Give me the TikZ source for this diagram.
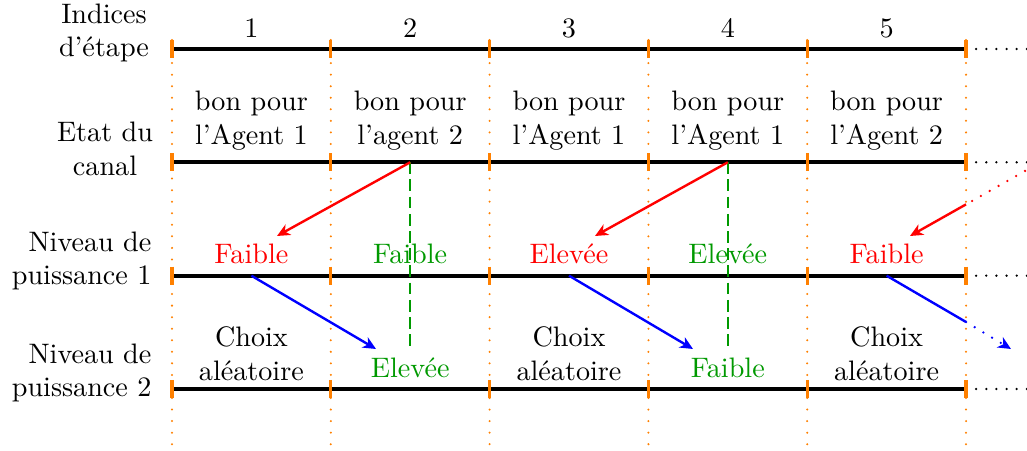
\documentclass[tikz,border=0pt]{standalone}
\usetikzlibrary{arrows.meta}
\begin{document}
\begin{tikzpicture}[x=0.355pt,y=-0.355pt,
  rowline/.style={line width=1.4pt},
  ext/.style={line width=0.9pt, line cap=round, dash pattern=on 0pt off 3.6pt},
  sep/.style={orange, line width=0.8pt, line cap=round, dash pattern=on 0pt off 4.1pt},
  tickmark/.style={orange, line width=1.1pt},
  greyseg/.style={gray!70, line width=0.6pt},
  cell/.style={align=center, inner sep=0pt},
  rowlbl/.style={align=center, inner sep=0pt},
  tip/.style={-{Stealth[length=4.6pt,width=4.2pt,inset=1.4pt]}},
  redarr/.style={red, line width=0.85pt, tip},
  bluearr/.style={blue, line width=0.85pt, tip},
  redline/.style={red, line width=0.85pt},
  blueline/.style={blue, line width=0.85pt},
  reddots/.style={red, line width=0.9pt, line cap=round, dash pattern=on 0pt off 3.6pt},
  bluedots/.style={blue, line width=0.9pt, line cap=round, dash pattern=on 0pt off 3.6pt},
  gdash/.style={green!60!black, line width=0.85pt, dash pattern=on 4.2pt off 1.9pt},
  gtxt/.style={text=green!60!black, inner sep=0pt},
  rtxt/.style={text=red, inner sep=0pt}
]
\useasboundingbox (0,0) rectangle (1027,451);

% grey short segments on state row
\foreach \a/\b in {172/186,316.8/344.8,475.6/503.6,634.4/662.4,793.2/821.2,952/966}
  \draw[greyseg] (\a,160.4) -- (\b,160.4);

% row lines
\foreach \y/\n in {49/r0,162.3/r1,275.7/r2,389/r3}{
  \coordinate (\n L) at (172,\y);
  \coordinate (\n R) at (966,\y);
  \coordinate (\n E) at (1027,\y);
  \draw[rowline] (\n L) -- (\n R);
  \draw[ext] ([xshift=3.6pt]\n R) -- (\n E);
}

% separators and ticks
\foreach \b [count=\i] in {172,330.8,489.6,648.4,807.2,966}{
  \coordinate (s\i T) at (\b,40);
  \coordinate (s\i B) at (\b,451);
  \draw[sep] (s\i T) -- (s\i B);
  \foreach \y in {49,162.3,275.7,389}
    \draw[tickmark] (\b,\y-9) -- (\b,\y+9);
}

% row labels
\node[rowlbl] (lab0) at (104,33) {Indices\\d'étape};
\node[rowlbl] (lab1) at (105,149) {Etat du\\canal};
\node[align=right, inner sep=0pt, anchor=east] (lab2) at (152,261) {Niveau de\\puissance 1};
\node[align=right, inner sep=0pt, anchor=east] (lab3) at (152,373) {Niveau de\\puissance 2};

% header indices
\foreach \x [count=\i] in {251.4,410.2,569,727.8,886.6}
  \node[inner sep=0pt] (h\i) at (\x,28) {\i};

% channel states
\node[cell] (c1) at (251.4,121) {bon pour\\l'Agent 1};
\node[cell] (c2) at (410.2,121) {bon pour\\l'agent 2};
\node[cell] (c3) at (569,121) {bon pour\\l'Agent 1};
\node[cell] (c4) at (727.8,121) {bon pour\\l'Agent 1};
\node[cell] (c5) at (886.6,121) {bon pour\\l'Agent 2};

% connector coordinates
\coordinate (a2) at (410.2,162.3);
\coordinate (a4) at (727.8,162.3);
\coordinate (e1) at (277,236);
\coordinate (e3) at (595,236);
\coordinate (e5) at (910,236);
\coordinate (d5s) at (1025,171);
\coordinate (d5m) at (966,204.4);
\coordinate (b1) at (251.4,275.7);
\coordinate (b3) at (569,275.7);
\coordinate (b5) at (886.6,275.7);
\coordinate (f2) at (376,349);
\coordinate (f4) at (693,349);
\coordinate (f5m) at (966,322);
\coordinate (f5) at (1011,349);
\coordinate (g2) at (410.2,351);
\coordinate (g4) at (727.8,351);

% green dashed
\draw[gdash] (a2) -- (g2);
\draw[gdash] (a4) -- (g4);

% power level 1
\node[rtxt] (p1) at (251.4,254) {Faible};
\node[gtxt] (p2) at (410.2,254) {Faible};
\node[rtxt] (p3) at (569,254) {Elevée};
\node[gtxt] (p4) at (727.8,254) {Elevée};
\node[rtxt] (p5) at (886.6,254) {Faible};

% power level 2
\node[cell] (q1) at (251.4,354) {Choix\\aléatoire};
\node[gtxt] (q2) at (410.2,368) {Elevée};
\node[cell] (q3) at (569,354) {Choix\\aléatoire};
\node[gtxt] (q4) at (727.8,368) {Faible};
\node[cell] (q5) at (886.6,354) {Choix\\aléatoire};

% red arrows
\draw[redarr] (a2) -- (e1);
\draw[redarr] (a4) -- (e3);
\draw[reddots] (d5s) -- (d5m);
\draw[redarr] (d5m) -- (e5);

% blue arrows
\draw[bluearr] (b1) -- (f2);
\draw[bluearr] (b3) -- (f4);
\draw[blueline] (b5) -- (f5m);
\draw[bluedots, tip] (f5m) -- (f5);
\end{tikzpicture}
\end{document}
